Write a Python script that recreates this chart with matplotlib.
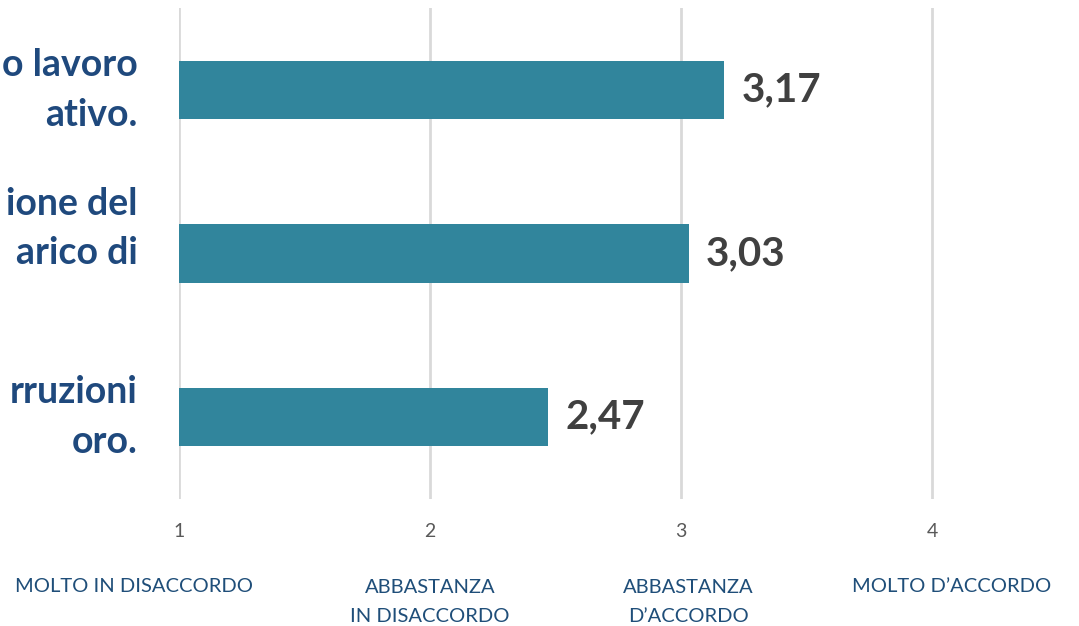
import matplotlib.pyplot as plt

# data
labels = ["o lavoro\nativo.", "ione del\narico di\n ", "rruzioni\noro."]
values = [3.17, 3.03, 2.47]
value_text = ["3,17", "3,03", "2,47"]
ticks = [1, 2, 3, 4]
scale_labels = ["MOLTO IN DISACCORDO", "ABBASTANZA\nIN DISACCORDO",
                "ABBASTANZA\nD\u2019ACCORDO", "MOLTO D\u2019ACCORDO"]
scale_pos = [0.82, 2.0, 3.03, 4.08]

W, H = 1079, 626
fig = plt.figure(figsize=(W / 100, H / 100), dpi=100)
ax = fig.add_axes([179 / W, 1 - 499 / H, 1 - 179 / W, (499 - 8) / H])

ax.barh(range(3), [v - 1 for v in values], left=1, height=0.355, color="#31859C", zorder=2)
for i, v in enumerate(values):
    ax.text(v + 0.07, i, value_text[i], va="center", ha="left", fontsize=29,
            fontweight="bold", color="#404040", family="Lato")

ax.set_xlim(1, 1 + (W - 179) / 251)
ax.set_ylim(2.5, -0.5)
ax.set_xticks(ticks)
ax.set_xticklabels([str(t) for t in ticks], fontsize=14, color="#595959", family="Lato")
ax.tick_params(axis="x", length=0, pad=17)
ax.set_yticks([])
ax.grid(axis="x", color="#D9D9D9", linewidth=2, zorder=0)
ax.set_axisbelow(True)
for s in ax.spines.values():
    s.set_visible(False)

for i, lab in enumerate(labels):
    ax.text(-41 / 900, i, lab, transform=ax.get_yaxis_transform(), ha="right", va="center",
            fontsize=27, fontweight="bold", color="#1F497D", family="Lato",
            linespacing=1.55, clip_on=False)

for x, lab in zip(scale_pos, scale_labels):
    y = -88 / 491 if "\n" not in lab else -103 / 491
    ax.text(x, y, lab, transform=ax.get_xaxis_transform(), ha="center", va="center",
            fontsize=14.5, color="#1F4E79", family="Lato", linespacing=1.85,
            multialignment="center")

fig.savefig("out.png", dpi=100)
